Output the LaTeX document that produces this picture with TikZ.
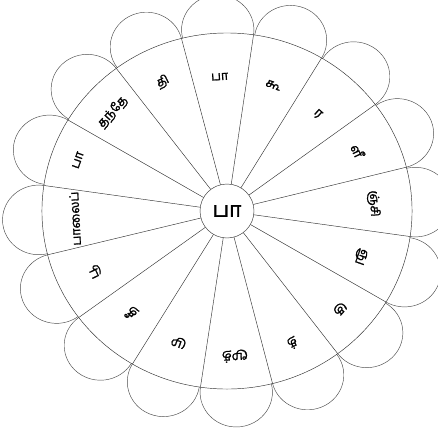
\documentclass[tikz,border=0pt]{standalone}
\usepackage{fontspec}
\newfontfamily\tamil[Script=Tamil,FakeBold=1.5]{Hind Madurai}
\begin{document}
\begin{tikzpicture}[x=1pt,y=1pt,line width=0.45pt,draw=black!80,
    petal/.style={draw=black!70},
    letter/.style={font=\tamil\fontsize{12.5}{12.5}\selectfont,inner sep=0pt}]
  \useasboundingbox (-227,-218) rectangle (211,211);
  \node[circle,draw,minimum size=54pt,inner sep=0pt,font=\tamil\fontsize{21}{21}\selectfont] (hub) at (0,0) {பா};
  \begin{scope}[xscale=1.028,yscale=0.989]
    \draw (0,0) circle (180);
    \foreach \t/\r [count=\i from 0] in {பா/136,கூ/135,ர/132,ளீ/141,ஞ்சி/143,ஞு/138,கு/148,த்/148,மூத்/147,மு/141,தீ/139,பூ/142,பாலைப்/148,பா/154,தந்தே/150,தி/145} {
      \pgfmathsetmacro\m{93-22.5*\i}
      \draw (hub.\m+11.25) -- (\m+11.25:180);
      \draw[petal] (\m-11.25:180) arc[start angle=\m-101.25,end angle=\m+101.25,radius=35.2];
      \node[letter,rotate=\m-90] (l\i) at (\m:\r) {\t};
    }
  \end{scope}
\end{tikzpicture}
\end{document}
